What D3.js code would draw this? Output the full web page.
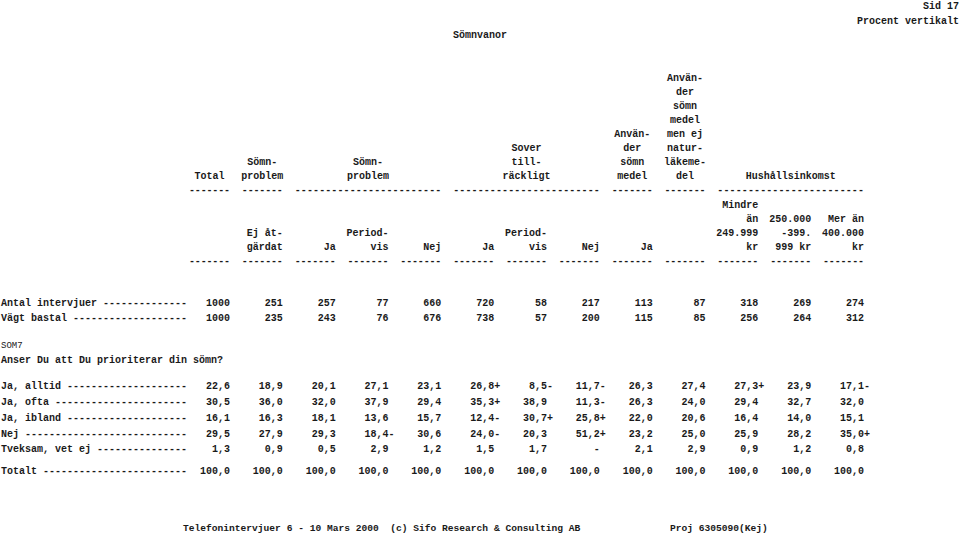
<!DOCTYPE html>
<html>
<head>
<meta charset="utf-8">
<script src="https://cdn.jsdelivr.net/npm/d3@7"></script>
<style>
  body { margin: 0; background: #fff; }
  text { font-family: "Liberation Mono", "Courier New", monospace; font-weight: bold; fill: #1a1a1a; white-space: pre; }
</style>
</head>
<body>
<script>
// kolumngrupper i tabellhuvudet (from/to = kolumnindex)
var groups = [
  {from: 0, to: 0, lines: ["Total"]},
  {from: 1, to: 1, lines: ["Sömn-", "problem"]},
  {from: 2, to: 4, lines: ["Sömn-", "problem"]},
  {from: 5, to: 7, lines: ["Sover", "till-", "räckligt"]},
  {from: 8, to: 8, lines: ["Använ-", "der", "sömn", "medel"]},
  {from: 9, to: 9, lines: ["Använ-", "der", "sömn", "medel", "men ej", "natur-", "läkeme-", "del"]},
  {from: 10, to: 12, lines: ["Hushållsinkomst"]}
];

// underrubriker per kolumn, 4 rader
var subHeads = [
  ["", "", "", ""],
  ["", "", "Ej åt-", "gärdat"],
  ["", "", "", "Ja"],
  ["", "", "Period-", "vis"],
  ["", "", "", "Nej"],
  ["", "", "", "Ja"],
  ["", "", "Period-", "vis"],
  ["", "", "", "Nej"],
  ["", "", "", "Ja"],
  ["", "", "", ""],
  ["Mindre", "än", "249.999", "kr"],
  ["", "250.000", "-399.", "999 kr"],
  ["", "Mer än", "400.000", "kr"]
];

var antal = ["1000", "251", "257", "77", "660", "720", "58", "217", "113", "87", "318", "269", "274"];
var bastal = ["1000", "235", "243", "76", "676", "738", "57", "200", "115", "85", "256", "264", "312"];

var jaAlltid = ["22,6", "18,9", "20,1", "27,1", "23,1", "26,8+", "8,5-", "11,7-", "26,3", "27,4", "27,3+", "23,9", "17,1-"];
var jaOfta = ["30,5", "36,0", "32,0", "37,9", "29,4", "35,3+", "38,9", "11,3-", "26,3", "24,0", "29,4", "32,7", "32,0"];
var jaIbland = ["16,1", "16,3", "18,1", "13,6", "15,7", "12,4-", "30,7+", "25,8+", "22,0", "20,6", "16,4", "14,0", "15,1"];
var nej = ["29,5", "27,9", "29,3", "18,4-", "30,6", "24,0-", "20,3", "51,2+", "23,2", "25,0", "25,9", "28,2", "35,0+"];
var tveksam = ["1,3", "0,9", "0,5", "2,9", "1,2", "1,5", "1,7", "-", "2,1", "2,9", "0,9", "1,2", "0,8"];
var totalt = ["100,0", "100,0", "100,0", "100,0", "100,0", "100,0", "100,0", "100,0", "100,0", "100,0", "100,0", "100,0", "100,0"];

var rows = [
  {label: "Antal intervjuer", values: antal, line: 0},
  {label: "Vägt bastal", values: bastal, line: 1},
  {label: "Ja, alltid", values: jaAlltid, line: 5.3},
  {label: "Ja, ofta", values: jaOfta, line: 6.3},
  {label: "Ja, ibland", values: jaIbland, line: 7.3},
  {label: "Nej", values: nej, line: 8.3},
  {label: "Tveksam, vet ej", values: tveksam, line: 9.3},
  {label: "Totalt", values: totalt, line: 10.65}
];

var width = 960;
var height = 536;
var colW = 41;
var fs = 10;

var svg = d3.select("body")
            .append("svg")
            .attr("width", width)
            .attr("height", height);

// högerkant per kolumn
var xScale = d3.scaleLinear()
               .domain([0, 12])
               .range([230, 864]);

// rader i huvudet (mittlinje)
var yHead = d3.scaleLinear()
              .domain([0, 13])
              .range([77, 260.5]);

// rader i tabellkroppen
var yBody = d3.scaleLinear()
              .domain([0, 1])
              .range([302, 317.8]);

var base = 3.5;

var dashes = function(x1, x2, y){
  var n = Math.round((x2 - x1) / 6);
  svg.append("text")
     .attr("x", x1)
     .attr("y", y + base)
     .attr("font-size", fs)
     .attr("textLength", x2 - x1)
     .attr("lengthAdjust", "spacing")
     .text(d3.range(n).map(function(){ return "-"; }).join(""));
};

// sidhuvud
svg.append("text").attr("x", 959).attr("y", 5 + base).attr("font-size", fs)
   .attr("text-anchor", "end").text("Sid 17");
svg.append("text").attr("x", 959).attr("y", 20 + base).attr("font-size", fs)
   .attr("text-anchor", "end").text("Procent vertikalt");
svg.append("text").attr("x", 480).attr("y", 34 + base).attr("font-size", fs)
   .attr("text-anchor", "middle").text("Sömnvanor");

// gruppetiketter, bottenjusterade mot rad 7
groups.forEach(function(g){
  var left = xScale(g.from) - colW;
  var right = xScale(g.to);
  var n = g.lines.length;
  svg.selectAll(null)
     .data(g.lines)
     .enter()
     .append("text")
     .attr("x", (left + right) / 2)
     .attr("y", function(d, i){ return yHead(8 - n + i) + base; })
     .attr("font-size", fs)
     .attr("text-anchor", "middle")
     .text(function(d){ return d; });
  dashes(left, right, yHead(8));
});

// underrubriker
subHeads.forEach(function(lines, c){
  svg.selectAll(null)
     .data(lines)
     .enter()
     .append("text")
     .attr("x", xScale(c))
     .attr("y", function(d, i){ return yHead(9 + i) + base; })
     .attr("font-size", fs)
     .attr("text-anchor", "end")
     .text(function(d){ return d; });
  dashes(xScale(c) - colW, xScale(c), yHead(13));
});

// tabellkropp
var pad = function(s){
  var out = s + " ";
  while (out.length < 31) out += "-";
  return out;
};

rows.forEach(function(r){
  var y = yBody(r.line) + base;
  svg.append("text")
     .attr("x", 1)
     .attr("y", y)
     .attr("font-size", fs)
     .text(pad(r.label));

  var cells = svg.selectAll(null)
                 .data(r.values)
                 .enter();

  cells.append("text")
       .attr("x", function(d, i){ return xScale(i); })
       .attr("y", y)
       .attr("font-size", fs)
       .attr("text-anchor", "end")
       .text(function(d){
         if (d === "-") return d;
         return d.replace(/[+-]$/, "");
       });

  cells.append("text")
       .attr("x", function(d, i){ return xScale(i); })
       .attr("y", y)
       .attr("font-size", fs)
       .text(function(d){
         if (d === "-") return "";
         var m = d.match(/[+-]$/);
         return m ? m[0] : "";
       });
});

svg.append("text").attr("x", 1).attr("y", yBody(2.7) + base)
   .attr("font-size", 9).style("font-weight", "normal").text("SOM7");
svg.append("text").attr("x", 1).attr("y", yBody(3.65) + base)
   .attr("font-size", fs).text("Anser Du att Du prioriterar din sömn?");

// sidfot
svg.append("text").attr("x", 183).attr("y", 527 + base).attr("font-size", 9.6)
   .text("Telefonintervjuer 6 - 10 Mars 2000  (c) Sifo Research & Consulting AB");
svg.append("text").attr("x", 670).attr("y", 527 + base).attr("font-size", 9.6)
   .text("Proj 6305090(Kej)");
</script>
</body>
</html>
